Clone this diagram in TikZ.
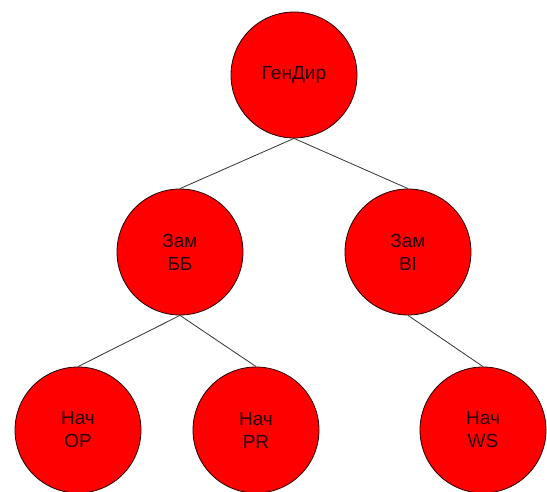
\documentclass[tikz,border=0pt]{standalone}
\usepackage{fontspec}
\setmainfont{Liberation Sans}
\begin{document}
\begin{tikzpicture}[x=1pt,y=-1pt,
  person/.style={circle, draw=black!85!red, line width=0.8pt, fill=red,
    minimum size=126pt, inner sep=0pt, align=center,
    font=\fontsize{19}{23}\selectfont, text=black!85!red},
  link/.style={draw=black!80, line width=0.8pt}]
\useasboundingbox (0,0) rectangle (547,492);
\node[person] (gd) at (294,75) {ГенДир};
\node[person] (bb) at (180,252) {Зам\\ББ};
\node[person] (bi) at (408,252) {Зам\\BI};
\node[person] (op) at (78,430) {Нач\\OP};
\node[person] (pr) at (256,430) {Нач\\PR};
\node[person] (ws) at (483,430) {Нач\\WS};
\draw[link] (gd.south) -- (bb.north);
\draw[link] (gd.south) -- (bi.north);
\draw[link] (bb.south) -- (op.north);
\draw[link] (bb.south) -- (pr.north);
\draw[link] (bi.south) -- (ws.north);
\end{tikzpicture}
\end{document}
